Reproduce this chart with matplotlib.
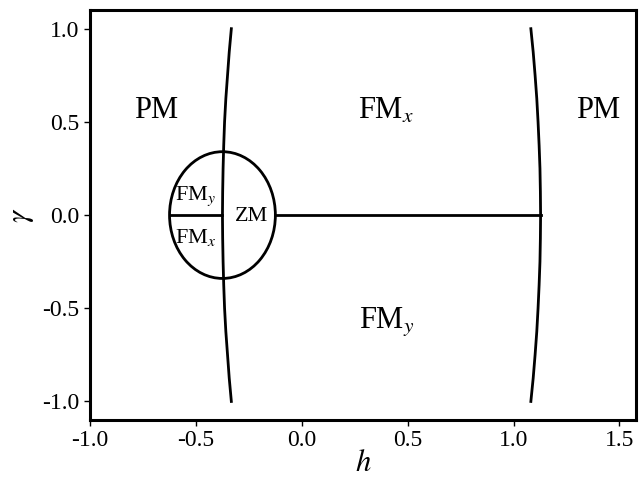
import matplotlib
import matplotlib.pyplot as plt
from matplotlib.patches import Ellipse

matplotlib.use("Agg")

plt.rcParams["font.family"] = ["Liberation Serif", "DejaVu Serif"]
plt.rcParams["mathtext.fontset"] = "stix"
plt.rcParams["axes.unicode_minus"] = False

# phase boundaries (h, gamma)
gamma_pts = [-1.0, -0.875, -0.75, -0.625, -0.5, -0.375, -0.25, -0.125, 0.0,
             0.125, 0.25, 0.375, 0.5, 0.625, 0.75, 0.875, 1.0]
left_h = [-0.333, -0.343, -0.351, -0.359, -0.365, -0.369, -0.372, -0.374, -0.375,
          -0.374, -0.372, -0.369, -0.365, -0.359, -0.351, -0.343, -0.333]
right_h = [1.082, 1.093, 1.102, 1.110, 1.116, 1.121, 1.125, 1.127, 1.128,
           1.127, 1.125, 1.121, 1.116, 1.110, 1.102, 1.093, 1.082]

# small ellipse around the zero-magnetisation phase
ell_center = (-0.375, 0.0)
ell_width = 0.50
ell_height = 0.68

# horizontal boundaries at gamma = 0
seg1_h = [-0.625, -0.375]
seg2_h = [-0.125, 1.128]

big_labels = ["PM", r"FM$_x$", "PM", r"FM$_y$"]
big_h = [-0.69, 0.40, 1.40, 0.40]
big_g = [0.56, 0.56, 0.56, -0.57]
small_labels = [r"FM$_y$", r"FM$_x$", "ZM"]
small_h = [-0.50, -0.50, -0.238]
small_g = [0.10, -0.12, -0.01]

fig = plt.figure(figsize=(6.44, 4.79), dpi=100)
ax = fig.add_axes([0.140, 0.123, 0.848, 0.856])

lw = 2.0
ax.plot(left_h, gamma_pts, color="black", lw=lw)
ax.plot(right_h, gamma_pts, color="black", lw=lw)
ax.plot(seg1_h, [0, 0], color="black", lw=lw)
ax.plot(seg2_h, [0, 0], color="black", lw=lw)
ax.add_patch(Ellipse(ell_center, ell_width, ell_height, fill=False, color="black", lw=lw))

for t, x, y in zip(big_labels, big_h, big_g):
    ax.text(x, y, t, fontsize=22, ha="center", va="center")
for t, x, y in zip(small_labels, small_h, small_g):
    ax.text(x, y, t, fontsize=16, ha="center", va="center")

ax.set_xlim(-1.0, 1.58)
ax.set_ylim(-1.1, 1.1)
ax.set_xticks([-1.0, -0.5, 0.0, 0.5, 1.0, 1.5])
ax.set_yticks([-1.0, -0.5, 0.0, 0.5, 1.0])
ax.set_xticklabels(["-1.0", "-0.5", "0.0", "0.5", "1.0", "1.5"])
ax.set_yticklabels(["-1.0", "-0.5", "0.0", "0.5", "1.0"])
ax.tick_params(labelsize=17, direction="out", length=4, width=1)
for s in ax.spines.values():
    s.set_linewidth(2.2)

ax.set_xlabel(r"$h$", fontsize=22, labelpad=-2)
ax.set_ylabel(r"$\gamma$", fontsize=22, labelpad=5)

fig.savefig("out.png", dpi=100)
